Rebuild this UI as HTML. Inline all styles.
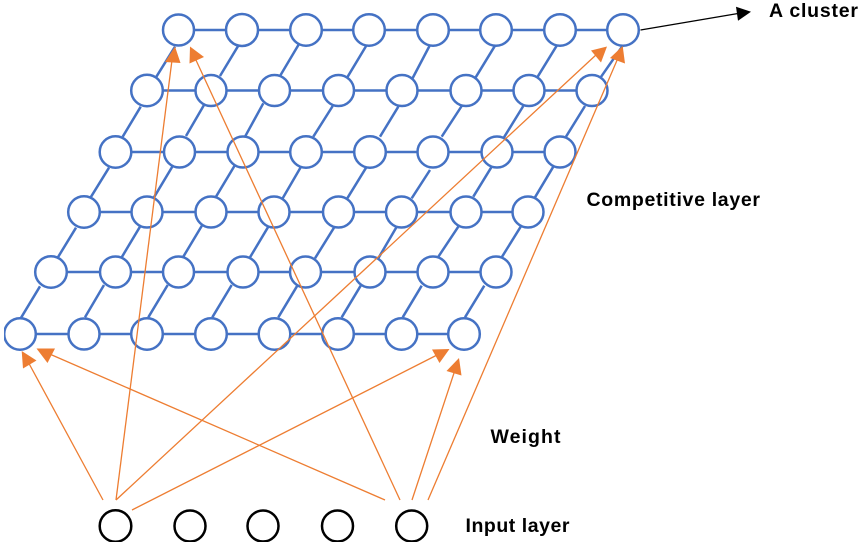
<!DOCTYPE html>
<html><head><meta charset="utf-8"><style>
html,body{margin:0;padding:0;background:#fff;width:862px;height:548px;overflow:hidden}
svg{display:block}
text{font-family:"Liberation Sans",sans-serif;font-weight:700;font-size:19.5px;fill:#000}
.b{stroke:#4472C4;stroke-width:2.5;fill:none}
.c{stroke:#4472C4;stroke-width:2.5;fill:#fff}
.k{stroke:#000;stroke-width:2.5;fill:#fff}
.o{stroke:#ED7D31;stroke-width:1.3;fill:none}
.h{fill:#ED7D31}
</style></head><body>
<svg width="862" height="548" viewBox="0 0 862 548" xmlns="http://www.w3.org/2000/svg">
<defs><filter id="s" x="0" y="0" width="100%" height="100%"><feGaussianBlur stdDeviation="0.3"/></filter></defs>
<g filter="url(#s)">
<g class="b">
<path d="M178.5 30H623M147 90.5H592M115.5 152H560M84 212H528M51 272H496M20 334H464"/>
<path d="M175 46.7L156 77.3M238.3 45.7L220 76M299 44L280 76M366.7 45L347.3 77.3M430 45L412.7 78M495 45.7L475.7 77.3M556.7 45.7L537.3 77.3M622.7 45.7L600 78.3"/>
<path d="M140.7 106.7L122.7 136.7M204 105L186 136M263.3 103.3L245 136.7M332.7 106L313.3 136.7M398.3 106.7L380 136.7M461.7 106L441.7 136.7M523.3 106L504 137.3M585 106L566 136.7"/>
<path d="M109 167.7L90.7 197.3M172.7 166L154 197.3M235 165L216 196.7M301 166.7L282.7 198.3M366.7 166.7L347.3 198.3M430 170L411.7 198.3M491.7 166.7L473.3 196.7M553.3 166.7L535 197.3"/>
<path d="M76 227.7L57.3 258.3M140 226.7L121.7 257.3M202.3 225L183.3 256.7M268.3 226.7L250 257.3M334 227.7L315 258.3M396.7 226.7L378.3 258.3M458.3 226.7L437.3 258.3M520.7 226.7L501.7 257.3"/>
<path d="M40 286.3L20.7 318.3M104 285L85 317.3M167.7 285L148.3 317.3M231.7 285L212.3 317.3M297.3 285.7L278.3 317.3M360.7 285.7L341.7 317.3M421.7 285.7L402.7 317.3M484.3 285.7L465 317.3"/>
</g>
<g class="c">
<circle cx="178.5" cy="30" r="15.5"/><circle cx="242" cy="30" r="16"/><circle cx="306" cy="30" r="15.8"/><circle cx="369" cy="30" r="15.8"/><circle cx="433" cy="30" r="15.8"/><circle cx="496" cy="30" r="15.8"/><circle cx="560" cy="30" r="15.8"/><circle cx="623" cy="30" r="15.8"/>
<circle cx="147" cy="90.5" r="15.8"/><circle cx="211" cy="90.5" r="15.5"/><circle cx="274.5" cy="90.5" r="15.5"/><circle cx="338.5" cy="90.5" r="15.5"/><circle cx="402" cy="90.5" r="15.5"/><circle cx="466" cy="90.5" r="15.5"/><circle cx="529" cy="90.5" r="15.5"/><circle cx="592" cy="90.5" r="15.5"/>
<circle cx="115.5" cy="152" r="15.8"/><circle cx="179.5" cy="152" r="15.5"/><circle cx="243" cy="152" r="15.5"/><circle cx="306" cy="152" r="15.8"/><circle cx="370" cy="152" r="15.8"/><circle cx="433" cy="152" r="15.5"/><circle cx="497" cy="152" r="15.5"/><circle cx="560" cy="152" r="15.5"/>
<circle cx="84" cy="212" r="15.8"/><circle cx="147" cy="212" r="15.5"/><circle cx="211" cy="212" r="15.5"/><circle cx="274" cy="212" r="15.5"/><circle cx="338.5" cy="212" r="15.5"/><circle cx="401.5" cy="212" r="15.5"/><circle cx="466" cy="212" r="15.5"/><circle cx="528" cy="212" r="15.5"/>
<circle cx="51" cy="272" r="15.8"/><circle cx="115.5" cy="272" r="15.5"/><circle cx="178.5" cy="272" r="15.5"/><circle cx="243" cy="272" r="15.5"/><circle cx="305.5" cy="272" r="15.5"/><circle cx="370" cy="272" r="15.5"/><circle cx="433" cy="272" r="15.5"/><circle cx="496" cy="272" r="15.5"/>
<circle cx="20" cy="334" r="15.8"/><circle cx="84" cy="334" r="15.5"/><circle cx="147" cy="334" r="15.8"/><circle cx="211" cy="334" r="15.8"/><circle cx="274.5" cy="334" r="15.8"/><circle cx="338" cy="334" r="15.8"/><circle cx="401.5" cy="334" r="15.8"/><circle cx="464" cy="334" r="15.8"/>
</g>
<g class="k">
<circle cx="115.5" cy="526" r="15.8"/><circle cx="190" cy="526" r="15.5"/><circle cx="263" cy="526" r="15.5"/><circle cx="337.5" cy="526" r="15.5"/><circle cx="411.7" cy="526" r="15.5"/>
</g>
<g class="o">
<path d="M103 500L26 358"/>
<path d="M385 500L45 352"/>
<path d="M116 500L172 60"/>
<path d="M116 500L597 54"/>
<path d="M132 510L441 353"/>
<path d="M400 500L195 58"/>
<path d="M412 500L455 370"/>
<path d="M428 500L618 58"/>
</g>
<g class="h">
<polygon points="21.7,351 36.5,360.5 23,368.5"/>
<polygon points="36.5,348.5 55,348.5 47.5,363"/>
<polygon points="175,46.5 180.5,63 165,62"/>
<polygon points="190,46.5 204,57 189.5,63.5"/>
<polygon points="607,46.5 601,62.5 591,50.5"/>
<polygon points="622.7,46 625,63.5 610,58"/>
<polygon points="449.5,349 439.5,363 432,349.5"/>
<polygon points="459,358 461.5,375.5 446.5,371"/>
</g>
<path d="M640.5 30L738 13.5" stroke="#000" stroke-width="1.3" fill="none"/>
<polygon points="751,11.7 738,20.7 736,6.7" fill="#000"/>
<text x="769" y="17" textLength="89" lengthAdjust="spacing">A cluster</text>
<text x="586.5" y="206" textLength="173.5" lengthAdjust="spacing">Competitive layer</text>
<text x="490.5" y="443" textLength="70" lengthAdjust="spacing">Weight</text>
<text x="465.5" y="532" textLength="104" lengthAdjust="spacing">Input layer</text>
</g>
</svg>
</body></html>
